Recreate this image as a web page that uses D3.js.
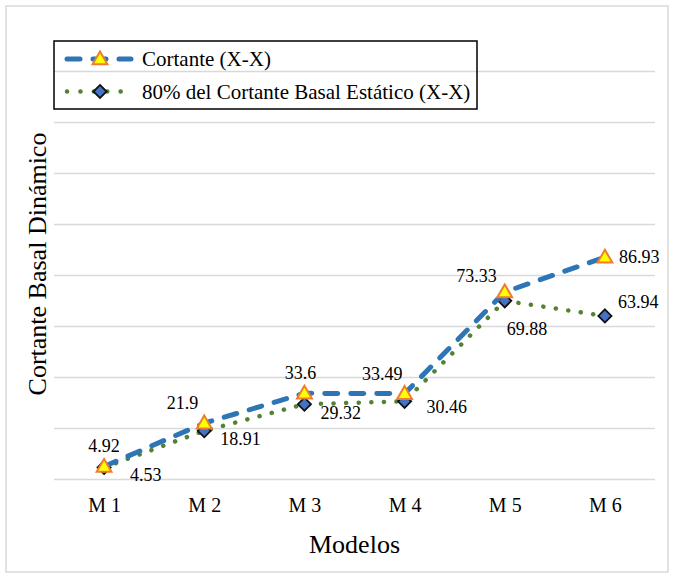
<!DOCTYPE html>
<html>
<head>
<meta charset="utf-8">
<script src="https://cdn.jsdelivr.net/npm/d3@7"></script>
<style>
  html, body { margin: 0; padding: 0; background: #fff; }
  svg { display: block; }
  text { font-family: "Liberation Serif", "Times New Roman", serif; fill: #000; }
</style>
</head>
<body>
<svg id="chart" width="674" height="578"></svg>
<script>
// Models on the horizontal axis
const modelos = ["M 1", "M 2", "M 3", "M 4", "M 5", "M 6"];

// Dynamic base shear (X-X)
const cortanteXX = [4.92, 21.9, 33.6, 33.49, 73.33, 86.93];

// 80% of the static base shear (X-X)
const cortanteEstatico80 = [4.53, 18.91, 29.32, 30.46, 69.88, 63.94];

// Value axis: gridlines only, no tick labels
const yTicks = [0, 20, 40, 60, 80, 100, 120, 140, 160];

const seriesNames = ["Cortante (X-X)", "80% del Cortante Basal Estático (X-X)"];

const svg = d3.select("#chart");

const plot = { left: 54, right: 655, top: 71, bottom: 479 };

const x = d3.scalePoint()
  .domain(modelos)
  .range([plot.left, plot.right])
  .padding(0.5);

const y = d3.scaleLinear()
  .domain([0, 160])
  .range([plot.bottom, plot.top]);

// Outer frame of the chart area
svg.append("rect")
  .attr("x", 6).attr("y", 6)
  .attr("width", 662).attr("height", 566)
  .attr("fill", "none")
  .attr("stroke", "#d9d9d9")
  .attr("stroke-width", 1.5);

// Horizontal gridlines
const yAxis = d3.axisLeft(y)
  .tickValues(yTicks)
  .tickSize(-(plot.right - plot.left))
  .tickFormat("");
const gy = svg.append("g")
  .attr("transform", `translate(${plot.left},0)`)
  .call(yAxis);
gy.select(".domain").remove();
gy.selectAll(".tick line")
  .attr("stroke", "#d9d9d9")
  .attr("stroke-width", 1.5);

// Category labels
const xAxis = d3.axisBottom(x).tickSize(0).tickPadding(0);
const gx = svg.append("g")
  .attr("transform", `translate(0,${plot.bottom})`)
  .call(xAxis);
gx.select(".domain").remove();
gx.selectAll(".tick text")
  .attr("y", 26)
  .attr("dy", null)
  .attr("dominant-baseline", "central")
  .style("font-family", "'Liberation Serif', 'Times New Roman', serif")
  .style("font-size", "20px")
  .attr("fill", "#000");

// Axis titles
svg.append("text")
  .attr("x", (plot.left + plot.right) / 2)
  .attr("y", 544)
  .attr("text-anchor", "middle")
  .attr("dominant-baseline", "central")
  .style("font-size", "26px")
  .text("Modelos");

svg.append("text")
  .attr("transform", "translate(37,264) rotate(-90)")
  .attr("text-anchor", "middle")
  .attr("dominant-baseline", "central")
  .style("font-size", "26px")
  .text("Cortante Basal Dinámico");

const line = d3.line()
  .x((d, i) => x(modelos[i]))
  .y(d => y(d));

const triangle = d3.symbol().type(d3.symbolTriangle).size(95);
const diamond = d3.symbol().type(d3.symbolDiamond2).size(110);

// Shared line/marker styles
const blueStyle = { color: "#2e75b6", width: 5, dash: "13,13" };
const greenStyle = { color: "#548235", width: 4.5, dash: "0.1,12.5" };

function drawMarker(g, sym, cx, cy, isTri) {
  g.append("path")
    .attr("d", sym())
    .attr("transform", `translate(${cx},${cy + (isTri ? 1 : 0)})`)
    .attr("fill", isTri ? "#ffff00" : "#4472c4")
    .attr("stroke", isTri ? "#ed7d31" : "#111")
    .attr("stroke-width", isTri ? 2 : 1.8)
    .attr("stroke-linejoin", "miter");
}

// 80% static series
const gGreen = svg.append("g");
gGreen.append("path")
  .datum(cortanteEstatico80)
  .attr("d", line)
  .attr("fill", "none")
  .attr("stroke", greenStyle.color)
  .attr("stroke-width", greenStyle.width)
  .attr("stroke-linecap", "round")
  .attr("stroke-dasharray", greenStyle.dash);

// Dynamic shear series
const gBlue = svg.append("g");
gBlue.append("path")
  .datum(cortanteXX)
  .attr("d", line)
  .attr("fill", "none")
  .attr("stroke", blueStyle.color)
  .attr("stroke-width", blueStyle.width)
  .attr("stroke-linecap", "round")
  .attr("stroke-dasharray", blueStyle.dash);

cortanteEstatico80.forEach((v, i) => drawMarker(gGreen, diamond, x(modelos[i]), y(v), false));
cortanteXX.forEach((v, i) => drawMarker(gBlue, triangle, x(modelos[i]), y(v), true));

// Data label placement for each point (offset from the marker)
const blueLabelOffsets = [
  { dx: 0, dy: -20, anchor: "middle" },
  { dx: -6, dy: -20, anchor: "end" },
  { dx: -4, dy: -20, anchor: "middle" },
  { dx: -2, dy: -20, anchor: "end" },
  { dx: -8, dy: -16, anchor: "end" },
  { dx: 14, dy: 0, anchor: "start" }
];
const greenLabelOffsets = [
  { dx: 26, dy: 8, anchor: "start" },
  { dx: 16, dy: 8, anchor: "start" },
  { dx: 16, dy: 9, anchor: "start" },
  { dx: 22, dy: 6, anchor: "start" },
  { dx: 2, dy: 28, anchor: "start" },
  { dx: 13, dy: -14, anchor: "start" }
];

function drawLabels(values, offsets) {
  svg.append("g").selectAll("text")
    .data(values)
    .join("text")
    .attr("x", (d, i) => x(modelos[i]) + offsets[i].dx)
    .attr("y", (d, i) => y(d) + offsets[i].dy)
    .attr("text-anchor", (d, i) => offsets[i].anchor)
    .attr("dominant-baseline", "central")
    .style("font-size", "18px")
    .text(d => d);
}
drawLabels(cortanteXX, blueLabelOffsets);
drawLabels(cortanteEstatico80, greenLabelOffsets);

// Legend
const legend = svg.append("g");
legend.append("rect")
  .attr("x", 54).attr("y", 41)
  .attr("width", 423).attr("height", 68)
  .attr("fill", "none")
  .attr("stroke", "#000")
  .attr("stroke-width", 1.5);

const legendRows = [
  { name: seriesNames[0], style: blueStyle, sym: triangle, tri: true, y: 59 },
  { name: seriesNames[1], style: greenStyle, sym: diamond, tri: false, y: 91.5 }
];
legendRows.forEach(r => {
  legend.append("line")
    .attr("x1", 67).attr("x2", 131)
    .attr("y1", r.y).attr("y2", r.y)
    .attr("stroke", r.style.color)
    .attr("stroke-width", r.style.width)
    .attr("stroke-linecap", "round")
    .attr("stroke-dasharray", r.tri ? "13,13" : "0.1,13.3");
  drawMarker(legend, r.sym, 100, r.y, r.tri);
  legend.append("text")
    .attr("x", 142)
    .attr("y", r.y)
    .attr("dominant-baseline", "central")
    .style("font-size", "21px")
    .text(r.name);
});
</script>
</body>
</html>
